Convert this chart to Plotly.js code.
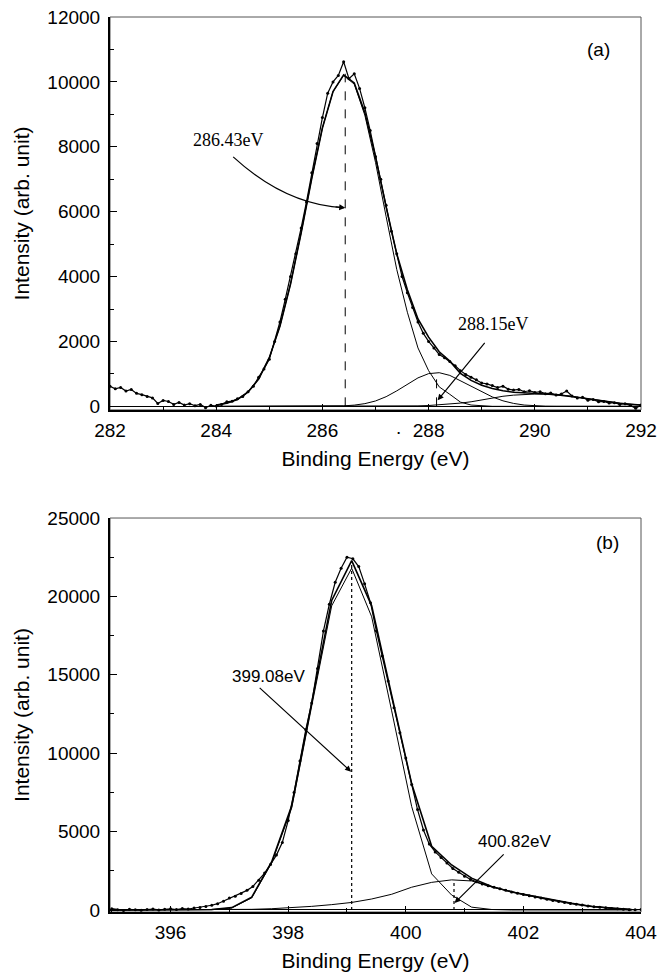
<!DOCTYPE html>
<html>
<head>
<meta charset="utf-8">
<script src="https://cdn.plot.ly/plotly-3.0.1.min.js"></script>
<style>html,body{margin:0;padding:0;background:#fff;}#chart{width:660px;height:979px;}</style>
</head>
<body>
<div id="chart"></div>
<script>
// ---------- Panel (a): C 1s ----------
const aRawX = [282.0,282.1,282.2,282.3,282.4,282.5,282.6,282.7,282.8,282.9,
283.0,283.1,283.2,283.3,283.4,283.5,283.6,283.7,283.8,283.9,
284.0,284.1,284.2,284.3,284.4,284.5,284.6,284.7,284.8,284.9,
285.0,285.1,285.2,285.3,285.4,285.5,285.6,285.7,285.8,285.9,
286.0,286.1,286.2,286.3,286.4,286.5,286.6,286.7,286.8,286.9,
287.0,287.1,287.2,287.3,287.4,287.5,287.6,287.7,287.8,287.9,
288.0,288.1,288.2,288.3,288.4,288.5,288.6,288.7,288.8,288.9,
289.0,289.1,289.2,289.3,289.4,289.5,289.6,289.7,289.8,289.9,
290.0,290.1,290.2,290.3,290.4,290.5,290.6,290.7,290.8,290.9,
291.0,291.1,291.2,291.3,291.4,291.5,291.6,291.7,291.8,291.9,292.0];
const aRawY = [620,540,580,470,520,400,360,300,260,90,
180,150,60,120,40,80,20,60,-40,30,
10,60,140,160,230,300,450,620,900,1150,
1450,2000,2600,3300,4000,4700,5500,6300,7200,8100,
8900,9650,10000,10200,10620,10100,10250,9800,9200,8500,
7700,7000,6200,5400,4700,4000,3500,3050,2600,2250,
2000,1800,1600,1500,1380,1250,1100,980,900,820,
720,690,640,580,620,530,500,520,450,480,
430,450,390,410,350,380,470,320,260,280,
190,210,140,150,100,110,60,80,30,-60,40];

const aFitX = [284.0,284.2,284.4,284.6,284.8,285.0,285.2,285.4,285.6,285.8,
286.0,286.2,286.4,286.6,286.8,287.0,287.2,287.4,287.6,287.8,
288.0,288.2,288.4,288.6,288.8,289.0,289.2,289.4,289.6,289.8,
290.0,290.2,290.4,290.6,290.8,291.0,291.2,291.4,291.6,291.8,292.0];
const aPeak1 = [40,97,213,442,844,1500,2470,3770,5350,7030,
8580,9700,10200,9930,8970,7520,5850,4220,2900,1800,
1100,600,370,130,40,10,0,0,0,0,
0,0,0,0,0,0,0,0,0,0,0];
const aPeak2 = [0,0,0,0,0,0,0,0,0,0,
0,5,15,37,83,165,297,476,683,877,
1008,1037,953,785,620,440,290,170,90,40,
15,3,0,0,0,0,0,0,0,0,0];
const aPeak3 = [0,0,0,0,0,0,0,0,0,0,
0,0,0,0,0,2,3,5,9,15,
25,45,70,100,140,200,260,310,345,370,
378,378,360,328,282,232,182,136,97,66,42];
const aEnvelope = [40,97,213,442,844,1500,2470,3770,5350,7030,
8580,9705,10215,9967,9053,7687,6150,4701,3592,2692,
2133,1682,1393,1015,800,650,550,480,435,410,
393,381,360,328,282,232,182,136,97,66,42];

const aPeakPos = [286.43, 288.15];
const aPeakTop = [10250, 1040];
const aPeakLabels = ['286.43eV', '288.15eV'];

// ---------- Panel (b): N 1s ----------
const bRawX = [395.0,395.1,395.2,395.3,395.4,395.5,395.6,395.7,395.8,395.9,
396.0,396.1,396.2,396.3,396.4,396.5,396.6,396.7,396.8,396.9,
397.0,397.1,397.2,397.3,397.4,397.5,397.6,397.7,397.8,397.9,
398.0,398.1,398.2,398.3,398.4,398.5,398.6,398.7,398.8,398.9,
399.0,399.1,399.2,399.3,399.4,399.5,399.6,399.7,399.8,399.9,
400.0,400.1,400.2,400.3,400.4,400.5,400.6,400.7,400.8,400.9,
401.0,401.1,401.2,401.3,401.4,401.5,401.6,401.7,401.8,401.9,
402.0,402.1,402.2,402.3,402.4,402.5,402.6,402.7,402.8,402.9,
403.0,403.1,403.2,403.3,403.4,403.5,403.6,403.7,403.8,403.9,404.0];
const bRawY = [80,20,-30,40,10,-20,30,60,0,40,
70,30,90,60,120,150,220,300,400,560,
760,880,1050,1250,1500,1900,2350,2900,3500,4300,
5700,7500,9500,11500,13200,15400,17800,19500,20900,21800,
22500,22400,21900,20800,19600,17800,16200,14600,12900,11300,
9700,8000,6400,5100,4200,3700,3350,3000,2650,2400,
2150,1950,1800,1650,1540,1450,1350,1260,1150,1060,
980,910,820,760,680,610,540,470,420,360,
310,260,210,180,140,100,80,50,20,10,30];

const bFitX = [395.00,395.34,395.68,396.02,396.36,396.70,397.04,397.38,397.72,398.06,
398.40,398.74,399.08,399.42,399.76,400.10,400.44,400.78,401.12,401.46,
401.80,402.14,402.48,402.82,403.16,403.50,403.84];
const bPeak1 = [0,0,0,0,0,20,130,770,3000,6500,
13000,19400,21800,18700,12700,6600,2300,950,180,30,
0,0,0,0,0,0,0];
const bPeak2 = [0,0,0,0,0,5,20,40,80,140,
230,340,480,700,1000,1450,1760,1920,1850,1470,
1150,900,650,420,220,100,20];
const bEnvelope = [0,0,0,0,0,25,150,810,3080,6640,
13230,19740,22280,19400,13700,8050,4060,2870,2030,1500,
1150,900,650,420,220,100,20];

const bPeakPos = [399.08, 400.82];
const bPeakTop = [22000, 1900];
const bPeakLabels = ['399.08eV', '400.82eV'];

const panelLabels = ['(a)', '(b)'];
const xTitle = 'Binding Energy (eV)';
const yTitle = 'Intensity (arb. unit)';

// ---------- styling ----------
const SANS = 'Liberation Sans, Arial, sans-serif';
const SERIF = 'Liberation Serif, Times New Roman, serif';
const rawStyle = {mode:'lines+markers', line:{color:'#000', width:1.2}, marker:{color:'#000', size:3}};
const fitStyle = {mode:'lines', line:{color:'#000', width:1}};
const envStyle = {mode:'lines', line:{color:'#000', width:1.6}};

function tr(x, y, style, xa, ya){
  return Object.assign({x:x, y:y, type:'scatter', xaxis:xa, yaxis:ya, showlegend:false, hoverinfo:'skip'}, JSON.parse(JSON.stringify(style)));
}

const data = [
  tr(aFitX, aPeak3, fitStyle, 'x', 'y'),
  tr(aFitX, aPeak2, fitStyle, 'x', 'y'),
  tr(aFitX, aPeak1, fitStyle, 'x', 'y'),
  tr(aFitX, aEnvelope, envStyle, 'x', 'y'),
  tr(aRawX, aRawY, rawStyle, 'x', 'y'),
  tr(bFitX, bPeak2, fitStyle, 'x2', 'y2'),
  tr(bFitX, bPeak1, fitStyle, 'x2', 'y2'),
  tr(bFitX, bEnvelope, envStyle, 'x2', 'y2'),
  tr(bRawX, bRawY, rawStyle, 'x2', 'y2')
];

function xAxis(range, anchor){
  return {
    range: range, anchor: anchor, domain:[0,1],
    showline:true, linecolor:'#000', linewidth:2, mirror:false,
    ticks:'inside', ticklen:6, tickwidth:1.2, tickcolor:'#000',
    dtick:2, tick0:0, showgrid:false, tickformat:'d',
    zeroline:false,
    minor:{dtick:1, ticks:'inside', ticklen:4, tickcolor:'#000', tickwidth:1, showgrid:false},
    tickfont:{family:SANS, size:19, color:'#000'},
    ticklabelstandoff: 2,
    title:{text:xTitle, font:{family:SANS, size:21, color:'#000'}, standoff:12},
    automargin:false
  };
}
function yAxis(range, dtick, domain, anchor){
  return {
    range: range, domain: domain, anchor: anchor,
    showline:true, linecolor:'#000', linewidth:2, mirror:false,
    ticks:'inside', ticklen:7, tickwidth:1.2, tickcolor:'#000',
    dtick:dtick, tick0:0, showgrid:false, tickformat:'d',
    zeroline:true, zerolinecolor:'#000', zerolinewidth:1,
    minor:{dtick:dtick/2, ticks:'inside', ticklen:4, tickcolor:'#000', tickwidth:1, showgrid:false},
    tickfont:{family:SANS, size:19, color:'#000'},
    ticklabelstandoff: 4,
    title:{text:yTitle, font:{family:SANS, size:21, color:'#000'}, standoff:12},
    automargin:false
  };
}

const shapes = [
  {type:'rect', xref:'x domain', yref:'y domain', x0:0, x1:1, y0:0, y1:1, line:{color:'#555', width:1}, layer:'below'},
  {type:'rect', xref:'x2 domain', yref:'y2 domain', x0:0, x1:1, y0:0, y1:1, line:{color:'#555', width:1}, layer:'below'}
];
aPeakPos.forEach((p,i)=>shapes.push({type:'line', xref:'x', yref:'y', x0:p, x1:p, y0:0, y1:aPeakTop[i], line:{color:'#000', width:1, dash:'dash'}}));
bPeakPos.forEach((p,i)=>shapes.push({type:'line', xref:'x2', yref:'y2', x0:p, x1:p, y0:0, y1:bPeakTop[i], line:{color:'#000', width:1.2, dash:'dot'}}));
// curved leader for 286.43 eV
shapes.push({type:'path', xref:'x', yref:'y', path:'M 284.32,7690 Q 285.30,6215 286.40,6120', line:{color:'#000', width:1.2}});

const arrowBase = {showarrow:true, arrowhead:2, arrowsize:1, arrowwidth:1.2, arrowcolor:'#000', text:'', standoff:0, startstandoff:0};
const annotations = [
  {xref:'x', yref:'y', x:284.23, y:8215, text:aPeakLabels[0], showarrow:false, font:{family:SERIF, size:18, color:'#000'}},
  Object.assign({xref:'x', yref:'y', axref:'x', ayref:'y', x:aPeakPos[0], y:6120, ax:286.22, ay:6150}, arrowBase),
  {xref:'x', yref:'y', x:289.23, y:2523, text:aPeakLabels[1], showarrow:false, font:{family:SERIF, size:18, color:'#000'}},
  Object.assign({xref:'x', yref:'y', axref:'x', ayref:'y', x:288.17, y:185, ax:289.08, ay:2000}, arrowBase),
  {xref:'x2', yref:'y2', x:397.66, y:14890, text:bPeakLabels[0], showarrow:false, font:{family:SANS, size:17, color:'#000'}},
  Object.assign({xref:'x2', yref:'y2', axref:'x2', ayref:'y2', x:399.07, y:8820, ax:397.49, ay:14250}, arrowBase),
  {xref:'x2', yref:'y2', x:401.85, y:4345, text:bPeakLabels[1], showarrow:false, font:{family:SANS, size:17, color:'#000'}},
  Object.assign({xref:'x2', yref:'y2', axref:'x2', ayref:'y2', x:400.83, y:450, ax:401.69, ay:3640}, arrowBase),
  {xref:'paper', yref:'paper', x:0.945, y:0.9777, text:panelLabels[0], showarrow:false, font:{family:SANS, size:19, color:'#000'}},
  {xref:'paper', yref:'paper', x:0.962, y:0.4123, text:panelLabels[1], showarrow:false, font:{family:SANS, size:19, color:'#000'}},
  {xref:'x', yref:'paper', x:287.43, y:0.5408, text:'.', showarrow:false, font:{family:SANS, size:19, color:'#000'}}
];

const layout = {
  width:660, height:979,
  margin:{l:110, r:19, t:17, b:67},
  paper_bgcolor:'#fff', plot_bgcolor:'#fff',
  showlegend:false,
  xaxis: xAxis([282, 292], 'y'),
  yaxis: yAxis([-110, 12000], 2000, [0.561, 1], 'x'),
  xaxis2: xAxis([394.97, 404], 'y2'),
  yaxis2: yAxis([-130, 25000], 5000, [0, 0.4402], 'x2'),
  shapes: shapes,
  annotations: annotations
};

Plotly.newPlot('chart', data, layout, {displayModeBar:false, staticPlot:true});
</script>
</body>
</html>
